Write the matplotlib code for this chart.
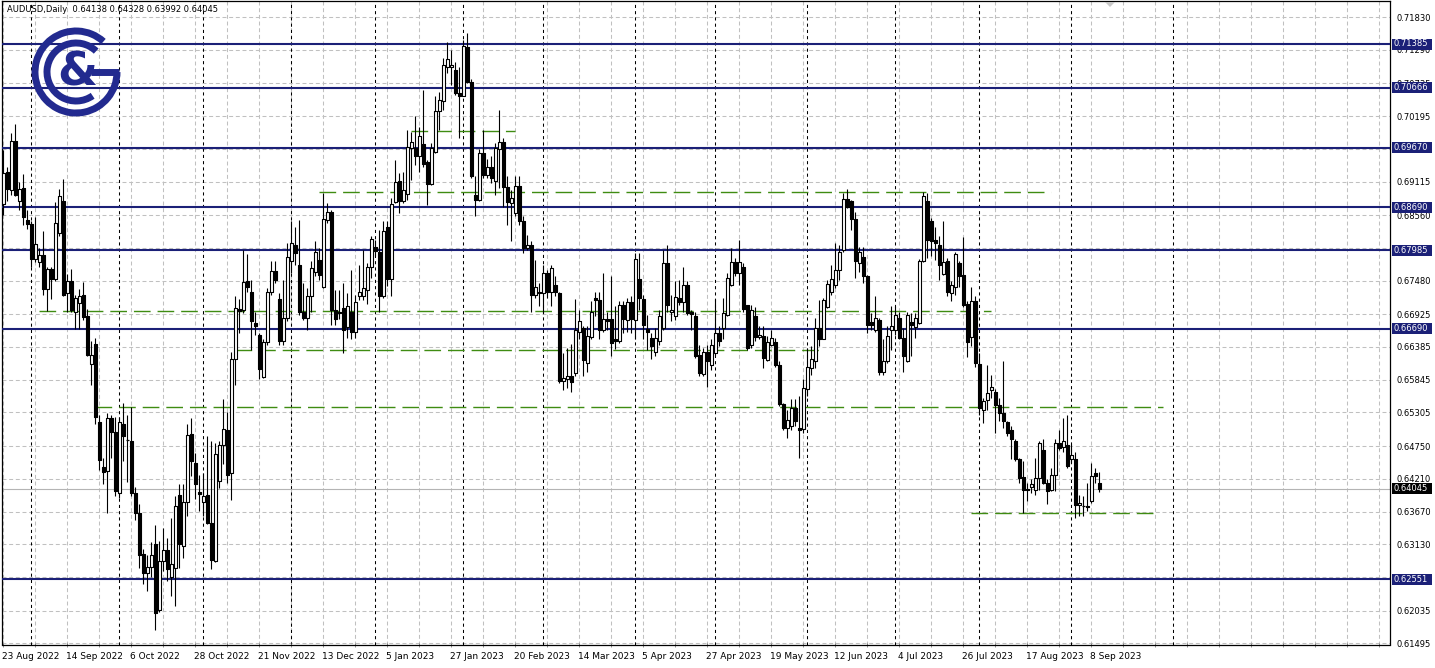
import numpy as np
import pandas as pd
import matplotlib
matplotlib.use("Agg")
import matplotlib.pyplot as plt
from matplotlib.collections import LineCollection, PatchCollection
from matplotlib.patches import Rectangle, Arc, Polygon

# ---------------- data (AUDUSD daily) ----------------
opens = [
    0.6875,0.6927,0.6898,0.6979,0.6880,0.6901,0.6848,0.6841,0.6783,0.6779,
    0.6790,0.6734,0.6767,0.6751,0.6826,0.6880,0.6727,0.6747,0.6697,0.6711,
    0.6725,0.6689,0.6610,0.6643,0.6515,0.6441,0.6434,0.6521,0.6498,0.6398,
    0.6512,0.6485,0.6484,0.6398,0.6364,0.6297,0.6265,0.6276,0.6313,0.6205,
    0.6285,0.6304,0.6259,0.6274,0.6395,0.6310,0.6383,0.6495,0.6447,0.6400,
    0.6382,0.6395,0.6348,0.6285,0.6417,0.6476,0.6502,0.6431,0.6618,0.6702,
    0.6700,0.6748,0.6729,0.6678,0.6659,0.6589,0.6647,0.6729,0.6764,0.6718,
    0.6648,0.6686,0.6780,0.6807,0.6774,0.6696,0.6686,0.6722,0.6763,0.6782,
    0.6737,0.6848,0.6862,0.6699,0.6697,0.6703,0.6671,0.6696,0.6664,0.6722,
    0.6722,0.6733,0.6771,0.6803,0.6796,0.6722,0.6837,0.6751,0.6877,0.6913,
    0.6879,0.6891,0.6967,0.6967,0.6953,0.6973,0.6943,0.6908,0.6960,0.7028,
    0.7045,0.7101,0.7100,0.7095,0.7058,0.7053,0.7133,0.7075,0.6890,0.6881,
    0.6959,0.6923,0.6935,0.6912,0.6965,0.6977,0.6902,0.6876,0.6860,0.6904,
    0.6846,0.6802,0.6807,0.6725,0.6729,0.6728,0.6760,0.6729,0.6741,0.6728,
    0.6582,0.6585,0.6590,0.6596,0.6663,0.6670,0.6612,0.6655,0.6719,0.6716,
    0.6667,0.6684,0.6684,0.6651,0.6648,0.6708,0.6683,0.6712,0.6683,0.6751,
    0.6718,0.6669,0.6653,0.6630,0.6648,0.6670,0.6777,0.6696,0.6689,0.6719,
    0.6712,0.6740,0.6696,0.6690,0.6626,0.6594,0.6630,0.6609,0.6629,0.6661,
    0.6670,0.6692,0.6740,0.6778,0.6760,0.6770,0.6707,0.6641,0.6690,0.6655,
    0.6657,0.6617,0.6642,0.6646,0.6608,0.6544,0.6505,0.6508,0.6538,0.6505,
    0.6503,0.6569,0.6604,0.6616,0.6670,0.6652,0.6705,0.6730,0.6740,0.6766,
    0.6799,0.6882,0.6880,0.6849,0.6777,0.6787,0.6755,0.6679,0.6667,0.6683,
    0.6598,0.6615,0.6667,0.6667,0.6686,0.6653,0.6615,0.6679,0.6672,0.6678,
    0.6780,0.6880,0.6846,0.6815,0.6807,0.6759,0.6780,0.6728,0.6738,0.6777,
    0.6758,0.6710,0.6655,0.6714,0.6611,0.6534,0.6551,0.6567,0.6564,0.6543,
    0.6529,0.6514,0.6501,0.6483,0.6453,0.6424,0.6404,0.6408,0.6403,0.6423,
    0.6469,0.6414,0.6403,0.6428,0.6480,0.6473,0.6476,0.6453,0.6453,0.6378,
    0.6376,0.6376,0.6384,0.6431,0.64138]
highs = [
    0.6964,0.6935,0.6991,0.7007,0.6910,0.6924,0.6864,0.6847,0.6853,0.6802,
    0.6830,0.6771,0.6771,0.6878,0.6900,0.6915,0.6759,0.6768,0.6725,0.6735,
    0.6746,0.6702,0.6648,0.6654,0.6526,0.6455,0.6529,0.6526,0.6523,0.6523,
    0.6546,0.6526,0.6540,0.6407,0.6379,0.6305,0.6296,0.6316,0.6344,0.6319,
    0.6340,0.6324,0.6357,0.6392,0.6412,0.6412,0.6511,0.6522,0.6464,0.6428,
    0.6431,0.6491,0.6483,0.6480,0.6483,0.6552,0.6532,0.6631,0.6722,0.6718,
    0.6799,0.6792,0.6749,0.6697,0.6662,0.6652,0.6736,0.6780,0.6781,0.6727,
    0.6749,0.6810,0.6846,0.6837,0.6848,0.6744,0.6736,0.6780,0.6814,0.6802,
    0.6892,0.6876,0.6865,0.6733,0.6733,0.6744,0.6728,0.6766,0.6725,0.6774,
    0.6799,0.6777,0.6821,0.6815,0.6832,0.6846,0.6846,0.6884,0.6947,0.6925,
    0.6928,0.6997,0.6994,0.7019,0.7002,0.7063,0.6947,0.6975,0.7052,0.7060,
    0.7115,0.7141,0.7129,0.7109,0.7101,0.7145,0.7156,0.7080,0.6920,0.6966,
    0.6997,0.6948,0.6953,0.6975,0.7030,0.6983,0.6920,0.6898,0.6920,0.6920,
    0.6854,0.6824,0.6813,0.6782,0.6744,0.6774,0.6766,0.6774,0.6755,0.6730,
    0.6629,0.6637,0.6643,0.6717,0.6700,0.6673,0.6673,0.6714,0.6730,0.6730,
    0.6761,0.6697,0.6755,0.6706,0.6714,0.6714,0.6719,0.6722,0.6793,0.6793,
    0.6725,0.6692,0.6662,0.6670,0.6700,0.6799,0.6806,0.6725,0.6747,0.6749,
    0.6771,0.6747,0.6700,0.6697,0.6642,0.6637,0.6642,0.6651,0.6717,0.6673,
    0.6719,0.6760,0.6802,0.6785,0.6815,0.6777,0.6708,0.6708,0.6705,0.6673,
    0.6673,0.6656,0.6667,0.6653,0.6615,0.6546,0.6535,0.6552,0.6552,0.6557,
    0.6585,0.6637,0.6640,0.6686,0.6716,0.6719,0.6749,0.6774,0.6810,0.6807,
    0.6892,0.6899,0.6881,0.6862,0.6804,0.6804,0.6758,0.6694,0.6722,0.6686,
    0.6651,0.6673,0.6706,0.6706,0.6697,0.6670,0.6697,0.6694,0.6694,0.6783,
    0.6895,0.6893,0.6851,0.6837,0.6821,0.6846,0.6785,0.6747,0.6796,0.6780,
    0.6820,0.6714,0.6738,0.6723,0.6629,0.6554,0.6609,0.6593,0.6569,0.6554,
    0.6615,0.6516,0.6508,0.6486,0.6456,0.6450,0.6414,0.6421,0.6456,0.6483,
    0.6487,0.6421,0.6439,0.6486,0.6502,0.6522,0.6527,0.6478,0.6466,0.6395,
    0.6393,0.6414,0.6447,0.6439,0.64328]
lows = [
    0.6856,0.6879,0.6890,0.6887,0.6864,0.6839,0.6833,0.6770,0.6779,0.6770,
    0.6725,0.6698,0.6717,0.6748,0.6822,0.6722,0.6697,0.6697,0.6668,0.6668,
    0.6683,0.6623,0.6575,0.6511,0.6435,0.6413,0.6364,0.6455,0.6393,0.6390,
    0.6450,0.6416,0.6393,0.6353,0.6273,0.6248,0.6236,0.6259,0.6171,0.6202,
    0.6269,0.6252,0.6228,0.6211,0.6274,0.6291,0.6360,0.6425,0.6387,0.6368,
    0.6360,0.6346,0.6272,0.6283,0.6406,0.6446,0.6414,0.6386,0.6576,0.6662,
    0.6694,0.6730,0.6634,0.6659,0.6585,0.6587,0.6642,0.6725,0.6744,0.6642,
    0.6641,0.6681,0.6760,0.6774,0.6692,0.6683,0.6667,0.6697,0.6755,0.6749,
    0.6736,0.6843,0.6675,0.6675,0.6684,0.6629,0.6653,0.6651,0.6653,0.6716,
    0.6716,0.6710,0.6752,0.6788,0.6697,0.6719,0.6739,0.6722,0.6876,0.6859,
    0.6876,0.6881,0.6914,0.6939,0.6928,0.6936,0.6873,0.6906,0.6958,0.6997,
    0.7030,0.7090,0.7071,0.7054,0.6983,0.7052,0.7074,0.6917,0.6854,0.6879,
    0.6917,0.6917,0.6909,0.6890,0.6901,0.6870,0.6840,0.6813,0.6854,0.6840,
    0.6793,0.6799,0.6697,0.6719,0.6706,0.6695,0.6719,0.6706,0.6722,0.6579,
    0.6568,0.6571,0.6564,0.6590,0.6651,0.6590,0.6598,0.6651,0.6689,0.6651,
    0.6664,0.6667,0.6623,0.6635,0.6645,0.6662,0.6664,0.6662,0.6651,0.6700,
    0.6651,0.6634,0.6618,0.6623,0.6642,0.6667,0.6697,0.6681,0.6683,0.6708,
    0.6697,0.6692,0.6667,0.6620,0.6590,0.6590,0.6573,0.6601,0.6626,0.6640,
    0.6651,0.6689,0.6739,0.6755,0.6741,0.6697,0.6634,0.6637,0.6648,0.6651,
    0.6604,0.6615,0.6640,0.6606,0.6541,0.6502,0.6489,0.6502,0.6508,0.6456,
    0.6497,0.6557,0.6593,0.6604,0.6640,0.6651,0.6703,0.6725,0.6736,0.6749,
    0.6796,0.6868,0.6832,0.6752,0.6763,0.6744,0.6662,0.6667,0.6664,0.6593,
    0.6593,0.6612,0.6634,0.6659,0.6651,0.6598,0.6613,0.6623,0.6653,0.6677,
    0.6778,0.6785,0.6788,0.6782,0.6749,0.6758,0.6722,0.6714,0.6725,0.6738,
    0.6705,0.6622,0.6640,0.6606,0.6527,0.6513,0.6535,0.6554,0.6497,0.6516,
    0.6505,0.6492,0.6453,0.6450,0.6414,0.6365,0.6384,0.6398,0.6395,0.6403,
    0.6412,0.6379,0.6401,0.6401,0.6469,0.6466,0.6439,0.6447,0.6357,0.6359,
    0.6359,0.6368,0.6381,0.6414,0.63992]
closes = [
    0.6925,0.6899,0.6979,0.6890,0.6900,0.6853,0.6841,0.6783,0.6808,0.6790,
    0.6734,0.6767,0.6751,0.6843,0.6887,0.6724,0.6747,0.6700,0.6719,0.6723,
    0.6688,0.6626,0.6626,0.6523,0.6452,0.6433,0.6521,0.6498,0.6401,0.6515,
    0.6492,0.6485,0.6398,0.6364,0.6296,0.6265,0.6276,0.6296,0.6200,0.6285,
    0.6304,0.6272,0.6280,0.6376,0.6313,0.6382,0.6494,0.6450,0.6413,0.6396,
    0.6392,0.6348,0.6287,0.6462,0.6476,0.6503,0.6428,0.6618,0.6703,0.6698,
    0.6746,0.6738,0.6681,0.6673,0.6603,0.6647,0.6730,0.6764,0.6749,0.6648,
    0.6686,0.6787,0.6810,0.6793,0.6697,0.6686,0.6722,0.6769,0.6796,0.6758,
    0.6849,0.6861,0.6700,0.6685,0.6694,0.6667,0.6706,0.6664,0.6712,0.6729,
    0.6736,0.6771,0.6816,0.6797,0.6722,0.6830,0.6751,0.6875,0.6910,0.6879,
    0.6898,0.6969,0.6976,0.6953,0.6987,0.6940,0.6908,0.6967,0.7028,0.7046,
    0.7104,0.7114,0.7104,0.7058,0.7053,0.7135,0.7075,0.6920,0.6881,0.6958,
    0.6923,0.6935,0.6917,0.6967,0.6977,0.6902,0.6877,0.6884,0.6904,0.6846,
    0.6802,0.6807,0.6724,0.6737,0.6727,0.6760,0.6729,0.6769,0.6729,0.6582,
    0.6587,0.6590,0.6580,0.6667,0.6682,0.6617,0.6656,0.6696,0.6716,0.6667,
    0.6684,0.6681,0.6645,0.6648,0.6708,0.6684,0.6712,0.6684,0.6784,0.6719,
    0.6675,0.6663,0.6640,0.6653,0.6689,0.6777,0.6707,0.6700,0.6721,0.6712,
    0.6740,0.6695,0.6693,0.6624,0.6595,0.6630,0.6615,0.6642,0.6662,0.6648,
    0.6694,0.6752,0.6778,0.6760,0.6778,0.6701,0.6637,0.6700,0.6655,0.6659,
    0.6621,0.6646,0.6653,0.6608,0.6544,0.6505,0.6518,0.6538,0.6516,0.6501,
    0.6571,0.6606,0.6618,0.6670,0.6652,0.6716,0.6743,0.6751,0.6766,0.6796,
    0.6882,0.6870,0.6849,0.6780,0.6796,0.6755,0.6675,0.6674,0.6686,0.6598,
    0.6615,0.6657,0.6673,0.6692,0.6653,0.6624,0.6692,0.6674,0.6686,0.6780,
    0.6888,0.6815,0.6814,0.6810,0.6773,0.6778,0.6729,0.6740,0.6792,0.6756,
    0.6708,0.6646,0.6715,0.6612,0.6538,0.6549,0.6563,0.6573,0.6543,0.6529,
    0.6516,0.6496,0.6486,0.6453,0.6423,0.6403,0.6402,0.6413,0.6423,0.6480,
    0.6414,0.6401,0.6428,0.6480,0.6472,0.6483,0.6442,0.6461,0.6377,0.6381,
    0.6376,0.6375,0.6425,0.6425,0.64045]

# trading calendar of the chart (broker had no bar on 26 Dec 2022)
dates = pd.bdate_range("2022-08-23", "2023-09-12").drop(pd.Timestamp("2022-12-26"))

# horizontal support / resistance levels (navy) and dashed trend levels (green)
navy_levels = [0.71385, 0.70666, 0.69670, 0.68690, 0.67985, 0.66690, 0.62551]
green_levels = [0.6995, 0.6894, 0.6698, 0.6634, 0.6539, 0.6364]
green_from = [102, 79, 9, 58, 23, 242]      # bar index where each dashed level starts
green_to = [128, 262, 247, 205, 290, 288]   # bar index where it ends
marker_lines = [292.4]                      # user vertical line in the empty right area

tick_values = [0.71830, 0.71290, 0.70735, 0.70195, 0.69655, 0.69115, 0.68560,
               0.68020, 0.67480, 0.66925, 0.66385, 0.65845, 0.65305, 0.64750,
               0.64210, 0.63670, 0.63130, 0.62590, 0.62035, 0.61495]
hidden_ticks = [0.69655, 0.68020, 0.62590]
header = "AUDUSD,Daily  0.64138 0.64328 0.63992 0.64045"
last_price = closes[-1]

# ---------------- figure ----------------
W, H = 1435, 668
fig = plt.figure(figsize=(W / 100, H / 100), dpi=100)
fig.patch.set_facecolor("white")

x_left, x_right = 2.0, 1390.0
y_top, y_bot = 1.0, 644.5
ax = fig.add_axes([x_left / W, 1 - y_bot / H, (x_right - x_left) / W, (y_bot - y_top) / H])
ax.set_facecolor("white")

px_per_unit = 6060.0
def price_at(ypix):
    return 0.71385 - (ypix - 44.0) / px_per_unit

ax.set_ylim(price_at(y_bot), price_at(y_top))
bar_px = 4.0
first_bar_x = 3.3
ax.set_xlim((x_left - first_bar_x) / bar_px, (x_right - first_bar_x) / bar_px)

n = len(closes)
idx = np.arange(n)
NAVY = "#1b2077"
GREEN = "#3f8c12"
GRID = "#c0c0c0"

# grid: horizontal at price ticks, vertical every 8 bars
for v in tick_values:
    ax.axhline(v, color=GRID, lw=0.75, ls=(0, (3.8, 2.6)), zorder=0)
for i in range(0, 350, 8):
    ax.axvline(i, color=GRID, lw=0.75, ls=(0, (3.8, 2.6)), zorder=0)

# month separators
month_starts = [i for i in range(1, n) if dates[i].month != dates[i - 1].month]
for i in month_starts + marker_lines:
    ax.axvline(i, color="black", lw=0.75, ls=(0, (3.0, 3.0)), zorder=1)

# current price line
ax.axhline(last_price, color="#b4b4b4", lw=0.8, zorder=1)

# green dashed levels
for lv, a, b in zip(green_levels, green_from, green_to):
    ax.plot([a, b], [lv, lv], color=GREEN, lw=1.0, ls=(0, (12, 5)), zorder=2)

# navy levels
for lv in navy_levels:
    ax.axhline(lv, color=NAVY, lw=1.5, zorder=3)

# candles
o = np.array(opens); h = np.array(highs); l = np.array(lows); c = np.array(closes)
wicks = LineCollection([[(i, l[i]), (i, h[i])] for i in idx], colors="black",
                       linewidths=0.8, zorder=4)
ax.add_collection(wicks)
bw = 0.62
bull_rects, bear_rects, dojis = [], [], []
for i in idx:
    lo, hi = min(o[i], c[i]), max(o[i], c[i])
    if hi - lo < 0.00004:
        dojis.append([(i - bw / 2 - 0.1, o[i]), (i + bw / 2 + 0.1, o[i])])
    elif c[i] >= o[i]:
        bull_rects.append(Rectangle((i - bw / 2, lo), bw, hi - lo))
    else:
        bear_rects.append(Rectangle((i - bw / 2, lo), bw, hi - lo))
ax.add_collection(PatchCollection(bull_rects, facecolor="white", edgecolor="black",
                                  linewidth=0.8, zorder=5))
ax.add_collection(PatchCollection(bear_rects, facecolor="black", edgecolor="black",
                                  linewidth=0.8, zorder=5))
ax.add_collection(LineCollection(dojis, colors="black", linewidths=0.9, zorder=5))

# axes styling
for s in ax.spines.values():
    s.set_color("black")
    s.set_linewidth(0.9)
ax.yaxis.tick_right()
ax.set_yticks(tick_values)
ax.set_yticklabels([("" if v in hidden_ticks else f"{v:.5f}") for v in tick_values])
ax.tick_params(axis="y", length=0, pad=5, labelsize=6, labelcolor="black")
ax.set_xticks(list(range(0, 350, 8)))
ax.set_xticklabels([])
ax.tick_params(axis="x", length=3, direction="inout", width=0.6, color="#808080")

# date labels every 16 bars
for i in range(0, n, 16):
    d = dates[i]
    ax.annotate(f"{d.day} {d.strftime('%b %Y')}", xy=(i, 0), xycoords=ax.get_xaxis_transform(),
                xytext=(-1.0, -8.6), textcoords="offset points", ha="left", va="center",
                fontsize=6.5, color="black", annotation_clip=False)

# ---------------- overlay: header, price boxes, logo ----------------
ov = fig.add_axes([0, 0, 1, 1])
ov.set_xlim(0, W)
ov.set_ylim(0, H)
ov.axis("off")
ov.patch.set_alpha(0)
ov.set_zorder(10)

def ypix_of(p):
    return 44.0 + (0.71385 - p) * px_per_unit

ov.text(7, H - 9, header, fontsize=6, ha="left", va="center", color="black")

# chart-shift marker at the top
ov.add_patch(Polygon([(1105, H - 2), (1115, H - 2), (1110, H - 7)], closed=True,
                     facecolor="#c8c8c8", edgecolor="none"))

for lv in navy_levels:
    yy = H - ypix_of(lv)
    ov.add_patch(Rectangle((1391.5, yy - 5.5), 40, 11, facecolor=NAVY, edgecolor="none"))
    ov.text(1394, yy, f"{lv:.5f}", fontsize=6, color="white", ha="left", va="center")
yy = H - ypix_of(last_price)
ov.add_patch(Rectangle((1391.5, yy - 5.5), 40, 11, facecolor="black", edgecolor="none"))
ov.text(1394, yy, f"{last_price:.5f}", fontsize=6, color="white", ha="left", va="center")

# C&G logo
LOGO = "#222a8f"
cx, cy = 76.0, H - 72.0
ov.add_patch(Arc((cx, cy), 82, 82, theta1=48, theta2=360, lw=5.0, color=LOGO))
ov.add_patch(Arc((cx, cy), 58, 58, theta1=46, theta2=305, lw=5.0, color=LOGO))
ov.plot([cx + 15, cx + 43], [cy, cy], color=LOGO, lw=5.0, solid_capstyle="butt")
ov.text(cx + 1, cy - 1, "&", fontsize=33, fontweight="bold", color=LOGO,
        ha="center", va="center")

fig.savefig("out.png", dpi=100, facecolor="white")
